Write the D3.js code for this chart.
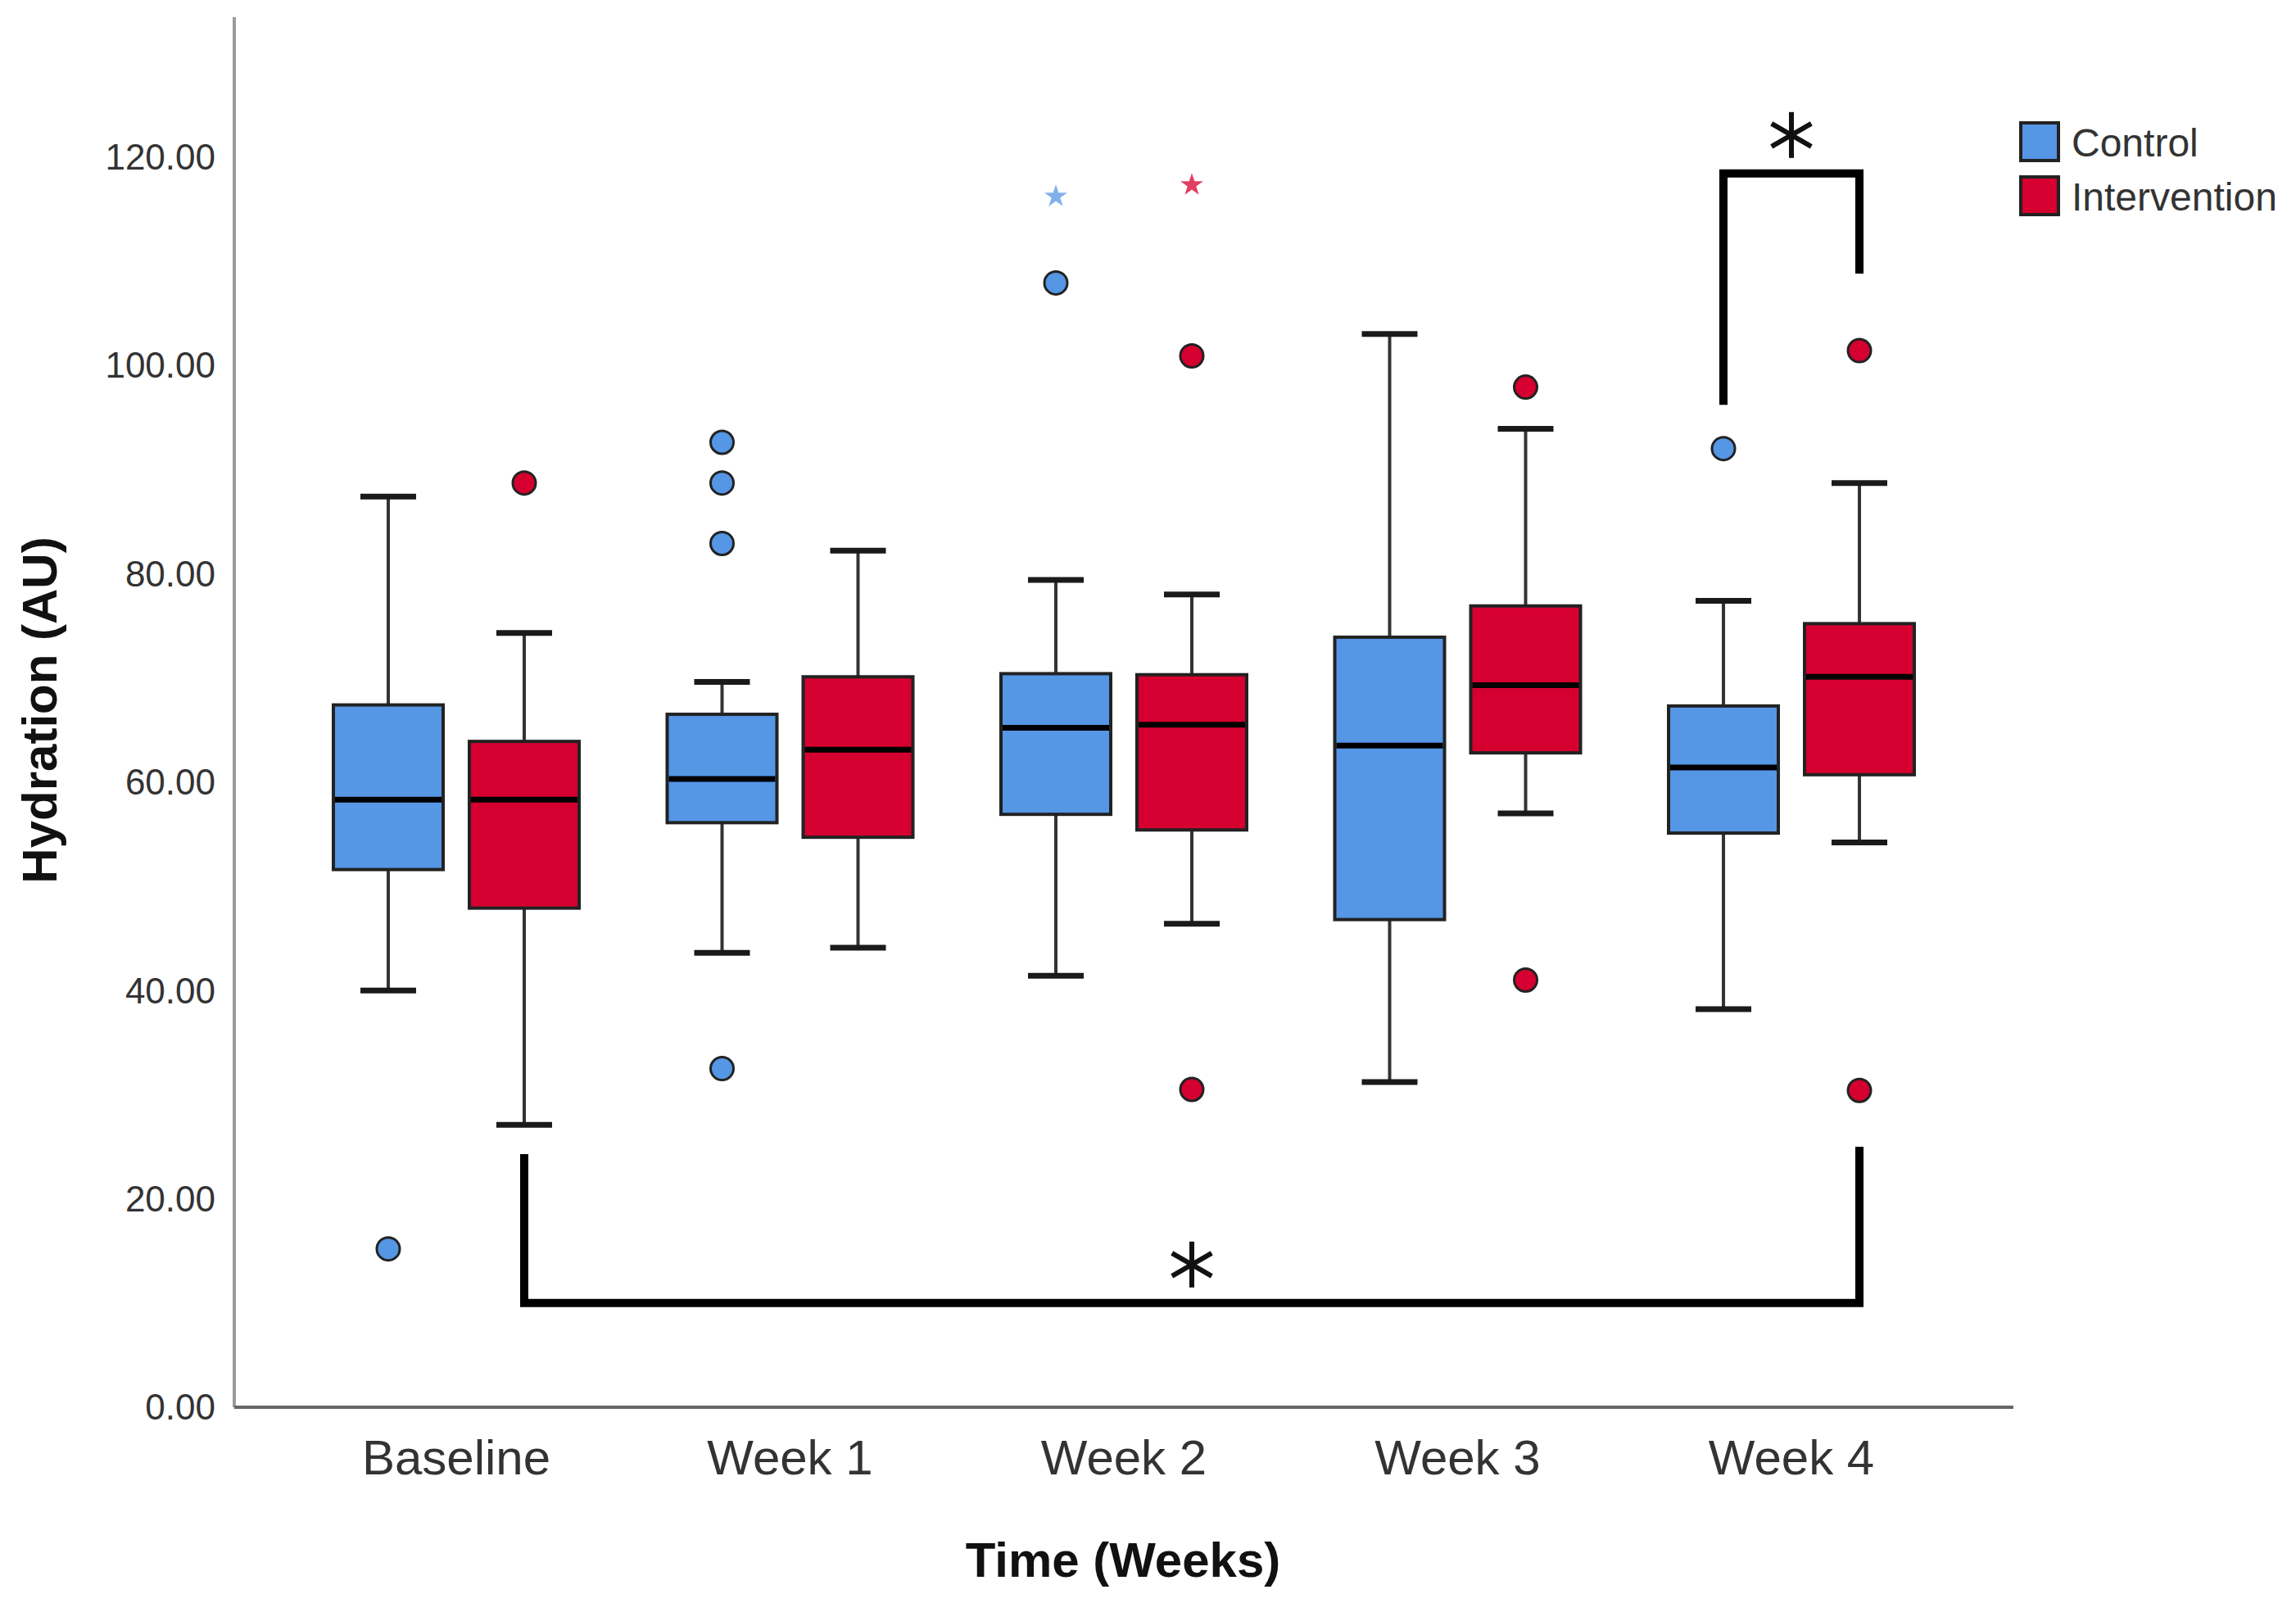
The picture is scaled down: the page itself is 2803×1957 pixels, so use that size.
<!DOCTYPE html>
<html>
<head>
<meta charset="utf-8">
<script src="https://cdn.jsdelivr.net/npm/d3@7"></script>
<style>
  body { margin: 0; background: #fff; }
  text { font-family: "Liberation Sans", Arial, sans-serif; }
</style>
</head>
<body>
<svg width="2803" height="1957"></svg>
<script>
const width = 2803;
const height = 1957;

const categories = ["Baseline", "Week 1", "Week 2", "Week 3", "Week 4"];
const groups = ["Control", "Intervention"];
const colors = ["#5596e5", "#d5002f"];

// [lower whisker, Q1, median, Q3, upper whisker]
const controlStats = [
  [40.0, 51.6, 58.3, 67.4, 87.4],
  [43.6, 56.1, 60.3, 66.5, 69.6],
  [41.4, 56.9, 65.2, 70.4, 79.4],
  [31.2, 46.8, 63.5, 73.9, 103.0],
  [38.2, 55.1, 61.4, 67.3, 77.4]
];
const interventionStats = [
  [27.1, 47.9, 58.3, 63.9, 74.3],
  [44.1, 54.7, 63.1, 70.1, 82.2],
  [46.4, 55.4, 65.5, 70.3, 78.0],
  [57.0, 62.8, 69.3, 76.9, 93.9],
  [54.2, 60.7, 70.1, 75.2, 88.7]
];
const controlOutliers = [[15.2], [92.6, 88.7, 82.9, 32.5], [107.9], [], [92.0]];
const interventionOutliers = [[88.7], [], [100.9, 30.5], [97.9, 41.0], [101.4, 30.4]];
const controlExtremes = [[], [], [116.2], [], []];
const interventionExtremes = [[], [], [117.3], [], []];

const yTicks = [0, 20, 40, 60, 80, 100, 120];

// significance brackets: ends at [category, group]
const brackets = [
  { from: ["Week 4", "Control"], to: ["Week 4", "Intervention"], fromEnd: 96.2, toEnd: 108.8, level: 118.4 },
  { from: ["Baseline", "Intervention"], to: ["Week 4", "Intervention"], fromEnd: 24.3, toEnd: 25.0, level: 10.0 }
];

const svg = d3.select("svg");
svg.append("rect").attr("width", width).attr("height", height).attr("fill", "#fff");

const axisLeft = 286, axisRight = 2458, axisTop = 21, axisBottom = 1718;

const x = d3.scaleBand().domain(categories).range([axisLeft, axisRight]).paddingOuter(0.165).paddingInner(0);
const xg = d3.scalePoint().domain(groups).range([-83, 83]);
const y = d3.scaleLinear().domain([0, 133.4]).range([axisBottom, axisTop]);

const boxW = 134, capW = 68;
const cx = (cat, g) => x(cat) + x.bandwidth() / 2 + xg(g);

// axes lines
svg.append("line").attr("x1", axisLeft).attr("x2", axisLeft).attr("y1", axisTop).attr("y2", axisBottom)
  .attr("stroke", "#9a9a9a").attr("stroke-width", 4);
svg.append("line").attr("x1", axisLeft).attr("x2", axisRight).attr("y1", axisBottom).attr("y2", axisBottom)
  .attr("stroke", "#666").attr("stroke-width", 4);

// y tick labels
svg.selectAll(".ytick").data(yTicks).enter().append("text")
  .attr("x", 263).attr("y", d => y(d)).attr("dy", "0.35em")
  .attr("text-anchor", "end").attr("font-size", 44).attr("fill", "#333")
  .text(d => d3.format(".2f")(d));

// x tick labels
svg.selectAll(".xtick").data(categories).enter().append("text")
  .attr("x", d => x(d) + x.bandwidth() / 2).attr("y", 1779).attr("dy", "0.35em")
  .attr("text-anchor", "middle").attr("font-size", 60).attr("fill", "#333")
  .text(d => d);

// axis titles
svg.append("text").attr("x", 1371).attr("y", 1904).attr("dy", "0.35em")
  .attr("text-anchor", "middle").attr("font-size", 60).attr("font-weight", "bold").attr("fill", "#111")
  .text("Time (Weeks)");
svg.append("text").attr("transform", "translate(48,867) rotate(-90)").attr("dy", "0.35em")
  .attr("text-anchor", "middle").attr("font-size", 60).attr("font-weight", "bold").attr("fill", "#111")
  .text("Hydration (AU)");

// boxes
const allStats = [controlStats, interventionStats];
const allOut = [controlOutliers, interventionOutliers];
const allExt = [controlExtremes, interventionExtremes];

groups.forEach((g, gi) => {
  categories.forEach((cat, ci) => {
    const [lo, q1, med, q3, hi] = allStats[gi][ci];
    const c = cx(cat, g);
    const grp = svg.append("g");
    // whiskers
    grp.append("line").attr("x1", c).attr("x2", c).attr("y1", y(hi)).attr("y2", y(q3))
      .attr("stroke", "#333").attr("stroke-width", 4);
    grp.append("line").attr("x1", c).attr("x2", c).attr("y1", y(q1)).attr("y2", y(lo))
      .attr("stroke", "#333").attr("stroke-width", 4);
    [lo, hi].forEach(v => {
      grp.append("line").attr("x1", c - capW / 2).attr("x2", c + capW / 2).attr("y1", y(v)).attr("y2", y(v))
        .attr("stroke", "#1a1a1a").attr("stroke-width", 7);
    });
    grp.append("rect").attr("x", c - boxW / 2).attr("y", y(q3)).attr("width", boxW).attr("height", y(q1) - y(q3))
      .attr("fill", colors[gi]).attr("stroke", "#222").attr("stroke-width", 4);
    grp.append("line").attr("x1", c - boxW / 2 + 2).attr("x2", c + boxW / 2 - 2).attr("y1", y(med)).attr("y2", y(med))
      .attr("stroke", "#000").attr("stroke-width", 7);

    grp.selectAll(".out").data(allOut[gi][ci]).enter().append("circle")
      .attr("cx", c).attr("cy", d => y(d)).attr("r", 14)
      .attr("fill", colors[gi]).attr("stroke", "#222").attr("stroke-width", 3);

    grp.selectAll(".ext").data(allExt[gi][ci]).enter().append("path")
      .attr("transform", d => `translate(${c},${y(d)})`)
      .attr("d", d3.symbol(d3.symbolStar, 240))
      .attr("fill", colors[gi]).attr("opacity", 0.75);
  });
});

// significance brackets
function asterisk(px, py, r) {
  const a = svg.append("g").attr("transform", `translate(${px},${py})`);
  [90, 30, -30].forEach(deg => {
    const t = deg * Math.PI / 180;
    a.append("line").attr("x1", -r * Math.cos(t)).attr("y1", -r * Math.sin(t))
      .attr("x2", r * Math.cos(t)).attr("y2", r * Math.sin(t))
      .attr("stroke", "#111").attr("stroke-width", 6);
  });
}

brackets.forEach(b => {
  const x1 = cx(b.from[0], b.from[1]);
  const x2 = cx(b.to[0], b.to[1]);
  const pts = [[x1, y(b.fromEnd)], [x1, y(b.level)], [x2, y(b.level)], [x2, y(b.toEnd)]];
  svg.append("path").attr("d", d3.line()(pts)).attr("fill", "none")
    .attr("stroke", "#000").attr("stroke-width", 10).attr("stroke-linejoin", "miter");
  asterisk((x1 + x2) / 2, y(b.level) - 47, 28);
});

// legend
const legend = svg.append("g").attr("transform", "translate(2467,150)");
groups.forEach((g, i) => {
  legend.append("rect").attr("x", 0).attr("y", i * 66).attr("width", 46).attr("height", 46)
    .attr("fill", colors[i]).attr("stroke", "#222").attr("stroke-width", 4);
  legend.append("text").attr("x", 62).attr("y", i * 66 + 24).attr("dy", "0.35em")
    .attr("font-size", 48).attr("fill", "#333").text(g);
});
</script>
</body>
</html>
